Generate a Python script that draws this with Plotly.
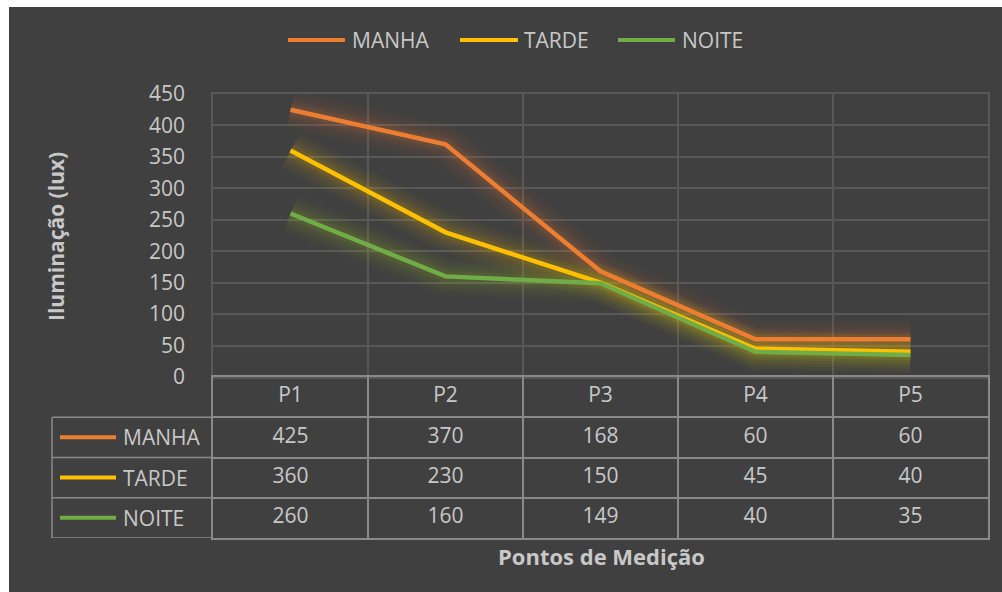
import plotly.graph_objects as go

# ---------------- data ----------------
categories = ["P1", "P2", "P3", "P4", "P5"]
series_names = ["MANHA", "TARDE", "NOITE"]
manha = [425, 370, 168, 60, 60]
tarde = [360, 230, 150, 45, 40]
noite = [260, 160, 149, 40, 35]
y_ticks = [0, 50, 100, 150, 200, 250, 300, 350, 400, 450]
y_title = "Iluminação (lux)"
x_title = "Pontos de Medição"

series_values = [manha, tarde, noite]
colors = ["#ED7D31", "#FFC000", "#70AD47"]
glow_rgb = ["237,125,49", "255,192,0", "160,195,40"]

# ---------------- layout constants ----------------
W, H = 1002, 592
BG = "#404040"
GRID = "#585858"
TABLE = "#8a8a8a"
TXT = "#c8c8c8"
FONT = "Open Sans"

def px(x):
    return x / W

def py(y):
    return 1 - y / H

fig = go.Figure()

# glow + main lines
glow_layers = [(40, 0.025), (34, 0.03), (28, 0.035), (22, 0.045), (16, 0.06), (11, 0.08)]
for name, vals, col, g in zip(series_names, series_values, colors, glow_rgb):
    for w, a in glow_layers:
        fig.add_trace(go.Scatter(x=categories, y=vals, mode="lines",
                                 line=dict(color=f"rgba({g},{a})", width=w),
                                 hoverinfo="skip", showlegend=False,
                                 xaxis="x", yaxis="y"))
for name, vals, col in zip(series_names, series_values, colors):
    fig.add_trace(go.Scatter(x=categories, y=vals, mode="lines", name=name,
                             line=dict(color=col, width=4.5),
                             showlegend=False, xaxis="x", yaxis="y"))

# data table (header + rows)
row_cats = ["header"] + series_names
fig.add_trace(go.Scatter(x=categories, y=["header"] * len(categories), mode="text",
                         text=categories, textfont=dict(family=FONT, size=21, color=TXT),
                         showlegend=False, hoverinfo="skip", xaxis="x2", yaxis="y2"))
for name, vals in zip(series_names, series_values):
    fig.add_trace(go.Scatter(x=categories, y=[name] * len(vals), mode="text",
                             text=[str(v) for v in vals],
                             textfont=dict(family=FONT, size=21, color=TXT),
                             showlegend=False, hoverinfo="skip", xaxis="x2", yaxis="y2"))

plot_x = [px(213), px(988)]
main_y = [py(377), py(94)]
table_y = [py(538), py(377)]

shapes = []
# white border top/left
shapes.append(dict(type="rect", xref="paper", yref="paper", x0=0, x1=px(9), y0=0, y1=1,
                   fillcolor="white", line=dict(width=0), layer="below"))
shapes.append(dict(type="rect", xref="paper", yref="paper", x0=0, x1=1, y0=py(7), y1=1,
                   fillcolor="white", line=dict(width=0), layer="below"))

# label column of the table
for i in range(1, len(row_cats) + 1):
    shapes.append(dict(type="line", xref="paper", yref="y2", x0=px(52), x1=px(213),
                       y0=i - 0.5, y1=i - 0.5, line=dict(color=TABLE, width=1.5)))
shapes.append(dict(type="line", xref="paper", yref="y2", x0=px(52), x1=px(52),
                   y0=0.5, y1=len(row_cats) - 0.5, line=dict(color=TABLE, width=1.5)))

annotations = []
for i, (name, col) in enumerate(zip(series_names, colors), start=1):
    shapes.append(dict(type="line", xref="paper", yref="y2", x0=px(60), x1=px(116),
                       y0=i, y1=i, line=dict(color=col, width=4)))
    annotations.append(dict(xref="paper", yref="y2", x=px(121), y=i, text=name,
                            showarrow=False, xanchor="left", yanchor="middle",
                            font=dict(family=FONT, size=21, color=TXT)))

# top legend (manual)
leg_pos = [(288, 345, 350), (460, 518, 522), (618, 675, 680)]
for (x0, x1, xt), name, col in zip(leg_pos, series_names, colors):
    shapes.append(dict(type="line", xref="paper", yref="paper", x0=px(x0), x1=px(x1),
                       y0=py(40), y1=py(40), line=dict(color=col, width=4)))
    annotations.append(dict(xref="paper", yref="paper", x=px(xt), y=py(40), text=name,
                            showarrow=False, xanchor="left", yanchor="middle",
                            font=dict(family=FONT, size=21, color=TXT)))

# axis titles
annotations.append(dict(xref="paper", yref="paper", x=px(56), y=py(237),
                        xanchor="center", yanchor="middle",
                        text=f"<b>{y_title}</b>", textangle=-90, showarrow=False,
                        font=dict(family=FONT, size=21, color=TXT)))
annotations.append(dict(xref="paper", yref="paper", x=px(601), y=py(556),
                        xanchor="center", yanchor="middle",
                        text=f"<b>{x_title}</b>", showarrow=False,
                        font=dict(family=FONT, size=22, color=TXT)))

common = dict(automargin=False, fixedrange=True, zeroline=False, ticks="")
fig.update_layout(
    template="none",
    width=W, height=H,
    margin=dict(l=0, r=0, t=0, b=0, pad=0, autoexpand=False),
    paper_bgcolor=BG, plot_bgcolor=BG,
    showlegend=False,
    xaxis=dict(type="category", categoryorder="array", categoryarray=categories,
               range=[-0.5, len(categories) - 0.5], domain=plot_x, anchor="y",
               tickson="boundaries", showgrid=True, gridcolor=GRID, gridwidth=1.5,
               showline=True, mirror=True, linecolor=GRID, linewidth=1.5,
               showticklabels=False, **common),
    yaxis=dict(range=[0, 450], domain=main_y, anchor="x", tickvals=y_ticks,
               showgrid=True, gridcolor=GRID, gridwidth=1.5,
               showline=True, mirror=True, linecolor=GRID, linewidth=1.5,
               ticklabelstandoff=22,
               tickfont=dict(family=FONT, size=21, color=TXT), **common),
    xaxis2=dict(type="category", categoryorder="array", categoryarray=categories,
                range=[-0.5, len(categories) - 0.5], domain=plot_x, anchor="y2",
                tickson="boundaries", showgrid=True, gridcolor=TABLE, gridwidth=1.5,
                showline=True, mirror=True, linecolor=TABLE, linewidth=1.5,
                showticklabels=False, **common),
    yaxis2=dict(type="category", categoryorder="array", categoryarray=row_cats,
                range=[len(row_cats) - 0.5, -0.5], domain=table_y, anchor="x2",
                tickson="boundaries", showgrid=True, gridcolor=TABLE, gridwidth=1.5,
                showline=True, mirror=True, linecolor=TABLE, linewidth=1.5,
                showticklabels=False, **common),
    shapes=shapes,
    annotations=annotations,
)

fig.write_html("out.html", config={"displayModeBar": False},
               post_script="document.body.style.margin='0';document.body.style.overflow='hidden';")
